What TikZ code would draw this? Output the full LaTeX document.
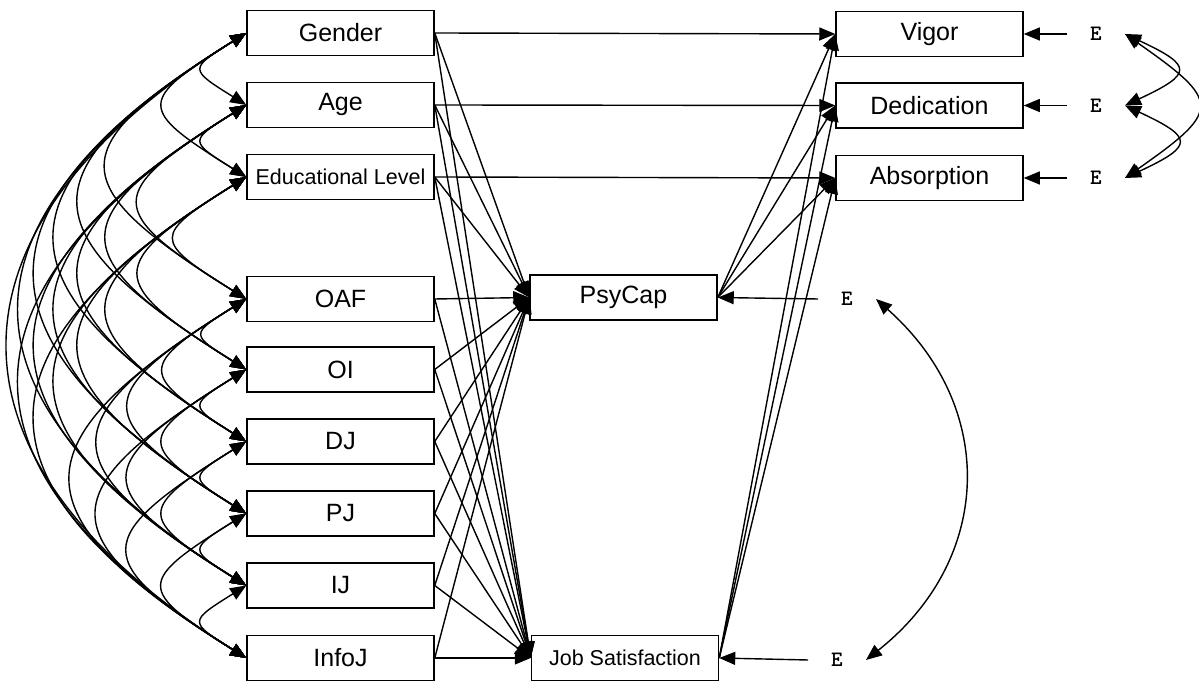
\documentclass[tikz,border=0pt]{standalone}
\usepackage{fontspec}
\setmainfont{Liberation Sans}
\usepackage{tikz}
\usetikzlibrary{arrows.meta}
\tikzstyle{var} = [rectangle, draw=black, line width=1.5pt, minimum width=187pt, minimum height=45pt, inner sep=0pt, font=\fontsize{25}{28}\selectfont]
\tikzstyle{varsmall} = [var, font=\fontsize{21.5}{24}\selectfont]
\tikzstyle{err} = [inner xsep=23pt, inner ysep=2pt, font=\ttfamily\bfseries\fontsize{22}{24}\selectfont]
\tikzstyle{arrow} = [line width=1.4pt, -{Triangle[length=16pt,width=13pt]}]
\tikzstyle{cov} = [line width=1.4pt, {Triangle[length=16pt,width=13pt]}-{Triangle[length=16pt,width=13pt]}]

\begin{document}
\begin{tikzpicture}[x=1pt, y=1pt]
    \useasboundingbox (0,0) rectangle (1199,682);

    % Exogenous variables
    \node (v1) at (340.5,649) [var] {Gender};
    \node (v2) at (340.5,577) [var] {Age};
    \node (v3) at (340.5,505) [varsmall] {Educational Level};
    \node (v4) at (340.5,383) [var] {OAF};
    \node (v5) at (340.5,312.5) [var] {OI};
    \node (v6) at (340.5,240.5) [var] {DJ};
    \node (v7) at (340.5,168.5) [var] {PJ};
    \node (v8) at (340.5,96.5) [var] {IJ};
    \node (v9) at (340.5,24) [var] {InfoJ};

    % Mediators
    \node (psycap) at (623.5,384.5) [var] {PsyCap};
    \node (jobsat) at (625,24) [varsmall] {Job Satisfaction};

    % Outcomes
    \node (vigor) at (929.5,648) [var] {Vigor};
    \node (dedic) at (929.5,576.5) [var] {Dedication};
    \node (absorp) at (929.5,504) [var] {Absorption};

    % Error terms
    \node (e1) at (1096,648) [err] {E};
    \node (e2) at (1096,576.5) [err] {E};
    \node (e3) at (1096,504) [err] {E};
    \node (e4) at (847,383) [err] {E};
    \node (e5) at (837,22) [err] {E};

    % Regression paths
    \foreach \i in {1,...,9} {
        \draw [arrow] (v\i.east) -- (psycap.west);
        \draw [arrow] (v\i.east) -- (jobsat.west);
    }
    \draw [arrow] (v1.east) -- (vigor.west);
    \draw [arrow] (v2.east) -- (dedic.west);
    \draw [arrow] (v3.east) -- (absorp.west);
    \foreach \o in {vigor,dedic,absorp} {
        \draw [arrow] (psycap.east) -- (\o.west);
        \draw [arrow] (jobsat.east) -- (\o.west);
    }
    \draw [arrow] (e1.west) -- (vigor.east);
    \draw [arrow] (e2.west) -- (dedic.east);
    \draw [arrow] (e3.west) -- (absorp.east);
    \draw [arrow] (e4.west) -- (psycap.east);
    \draw [arrow] (e5.west) -- (jobsat.east);

    % Covariances
    \def\ylist{{649,577,505,383,312.5,240.5,168.5,96.5,24}}
    \foreach \i in {1,...,8} {
        \pgfmathtruncatemacro\k{\i+1}
        \foreach \j in {\k,...,9} {
            \pgfmathsetmacro\ya{\ylist[\i-1]}
            \pgfmathsetmacro\yb{\ylist[\j-1]}
            \pgfmathsetmacro\loose{2.53-0.0016*(\ya-\yb)}
            \draw [cov] (v\i.west) to[bend right=58, looseness=\loose] (v\j.west);
        }
    }
    \draw [cov] (e1.east) to[bend left=65, looseness=2.7] (e2.east);
    \draw [cov] (e2.east) to[bend left=65, looseness=2.7] (e3.east);
    \draw [cov] (e1.east) to[bend left=55, looseness=2.1] (e3.east);
    \draw [cov] (e4.east) to[bend left=50, looseness=1.15] (e5.east);
\end{tikzpicture}
\end{document}
